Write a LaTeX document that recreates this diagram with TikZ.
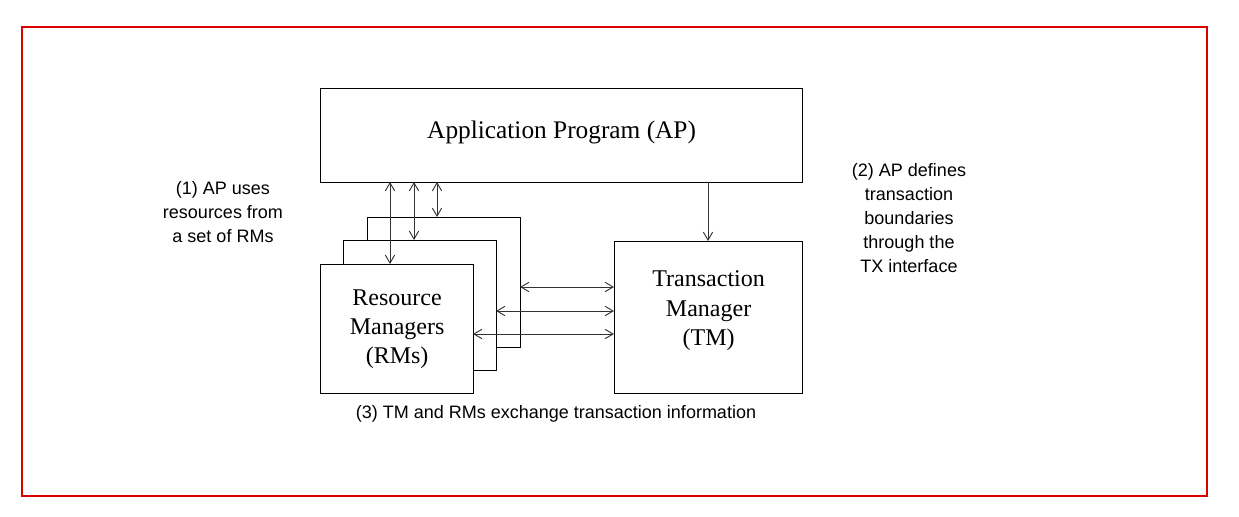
\documentclass[tikz,border=0pt]{standalone}
\usepackage{fontspec}
\setmainfont{Liberation Serif}
\newfontfamily\lab{Liberation Sans}
\usetikzlibrary{arrows.meta}
\begin{document}
\begin{tikzpicture}[x=0.75pt,y=-0.75pt,
  box/.style={draw,line width=0.9pt,fill=white},
  bt/.style={font=\fontsize{19}{22}\selectfont,align=center},
  lb/.style={font=\lab\fontsize{13.5}{18}\selectfont,align=center},
  con/.style={line width=0.7pt,draw=black!80,{Straight Barb[length=6pt,width=7pt]}-{Straight Barb[length=6pt,width=7pt]}}]
\useasboundingbox (0,0) rectangle (1239,517);
\draw[red!85!black,line width=1.6pt] (22,27) rectangle (1207,496);
\node[box,minimum width=482*0.75pt,minimum height=94*0.75pt,anchor=north west] (ap) at (320,88) {};
\node[bt] at ([yshift=2pt]ap.center) {Application Program (AP)};
\node[box,minimum width=153*0.75pt,minimum height=130*0.75pt,anchor=north west] (rm3) at (367,217) {};
\node[box,minimum width=153*0.75pt,minimum height=130*0.75pt,anchor=north west] (rm2) at (343,240) {};
\node[box,minimum width=153*0.75pt,minimum height=129*0.75pt,anchor=north west,bt,font=\fontsize{18}{22}\selectfont] (rm1) at (320,264) {Resource\\Managers\\(RMs)};
\node[box,minimum width=188*0.75pt,minimum height=152*0.75pt,anchor=north west] (tm) at (614,241) {};
\node[bt,font=\fontsize{18}{22}\selectfont] at ([yshift=5pt]tm.center) {Transaction\\Manager\\(TM)};
\coordinate (a1) at (390,182); \coordinate (b1) at (390,264);
\coordinate (a2) at (414,182); \coordinate (b2) at (414,240);
\coordinate (a3) at (437,182); \coordinate (b3) at (437,217);
\draw[con] (a1) -- (b1);
\draw[con] (a2) -- (b2);
\draw[con] (a3) -- (b3);
\coordinate (c0) at (708,182); \coordinate (d0) at (708,241);
\draw[line width=0.7pt,draw=black!80,-{Straight Barb[length=6pt,width=7pt]}] (c0) -- (d0);
\coordinate (h1) at (520,287); \coordinate (t1) at (614,287);
\coordinate (h2) at (496,311); \coordinate (t2) at (614,311);
\coordinate (h3) at (473,334); \coordinate (t3) at (614,334);
\draw[con] (h1) -- (t1);
\draw[con] (h2) -- (t2);
\draw[con] (h3) -- (t3);
\node[lb] (l1) at (223,212) {(1) AP uses\\resources from\\a set of RMs};
\node[lb] (l2) at (909,218) {(2) AP defines\\transaction\\boundaries\\through the\\TX interface};
\node[lb] (l3) at (556,414) {(3) TM and RMs exchange transaction information};
\end{tikzpicture}
\end{document}
